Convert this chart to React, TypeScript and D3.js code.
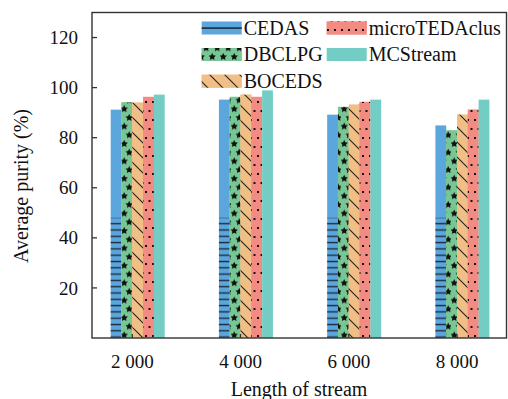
import React from "react";
import * as d3 from "d3";

const categories = ["2 000", "4 000", "6 000", "8 000"];
const seriesNames = ["CEDAS", "DBCLPG", "BOCEDS", "microTEDAclus", "MCStream"];
const cedas = [91.2, 95.2, 89.2, 84.9];
const dbclpg = [94.1, 96.3, 92.3, 82.9];
const boceds = [94.0, 97.2, 93.2, 89.2];
const microTEDAclus = [96.3, 96.3, 94.3, 91.2];
const mcStream = [97.2, 98.9, 95.2, 95.2];
const yTicks = [20, 40, 60, 80, 100, 120];

const seriesValues = [cedas, dbclpg, boceds, microTEDAclus, mcStream];
const colors = ["#5ba6dc", "#76c793", "#f1bf85", "#f38b83", "#73cdc4"];
const fills = ["url(#pCedas)", "url(#pStars)", "url(#pDiag)", "url(#pDots)", colors[4]];

const textStyle = { fontFamily: "Liberation Serif" };

function starPath(cx: number, cy: number, r: number) {
  const pts: [number, number][] = [];
  for (let i = 0; i < 10; i++) {
    const a = -Math.PI / 2 + (i * Math.PI) / 5;
    const rr = i % 2 === 0 ? r : r * 0.5;
    pts.push([cx + rr * Math.cos(a), cy + rr * Math.sin(a)]);
  }
  return "M" + pts.map((p) => p.join(",")).join("L") + "Z";
}

export default function App() {
  const W = 508;
  const H = 399;
  const plot = { left: 92, right: 506.5, top: 12.5, bottom: 338 };

  const y = d3.scaleLinear().domain([0, 130]).range([plot.bottom, plot.top]);
  const x = d3.scalePoint<string>().domain(categories).range([132.3, 457]);
  const bw = 10.8;
  // tick sits between the 2nd and 3rd bar of each group
  const inner = d3.scaleBand<string>().domain(seriesNames).range([-2 * bw, 3 * bw]);

  const lineTop = y(48);

  const bars = categories.map((c, ci) =>
    seriesNames.map((s, si) => {
      const v = seriesValues[si][ci];
      const bx = (x(c) as number) + (inner(s) as number);
      const by = y(v);
      const h = plot.bottom - by;
      return (
        <g key={c + s}>
          <rect x={bx} y={by} width={inner.bandwidth()} height={h} fill={colors[si]} />
          {si === 0 ? (
            <rect
              x={bx}
              y={lineTop}
              width={inner.bandwidth()}
              height={plot.bottom - lineTop}
              fill="url(#pHlines)"
            />
          ) : si < 4 ? (
            <rect x={bx} y={by} width={inner.bandwidth()} height={h} fill={fills[si]} />
          ) : null}
        </g>
      );
    })
  );

  const legendItems = [
    { i: 0, x: 201.7, y: 21.5 },
    { i: 1, x: 201.7, y: 48 },
    { i: 2, x: 201.7, y: 74.7 },
    { i: 3, x: 326.7, y: 21.5 },
    { i: 4, x: 326.7, y: 48 },
  ];

  return (
    <svg width={W} height={H} style={{ position: "absolute", left: 0, top: 0 }}>
      <defs>
        <pattern id="pHlines" patternUnits="userSpaceOnUse" width={10} height={6.3}>
          <rect x={0} y={2.5} width={10} height={1.4} fill="#1d2c3e" />
        </pattern>
        <pattern id="pStars" patternUnits="userSpaceOnUse" width={11} height={17.4}>
          <rect width={11} height={17.4} fill={colors[1]} />
          <path d={starPath(3.2, 4.6, 3.9)} fill="#111" />
          <path d={starPath(8.2, 13.3, 3.9)} fill="#111" />
        </pattern>
        <pattern id="pDiag" patternUnits="userSpaceOnUse" width={15} height={15}>
          <rect width={15} height={15} fill={colors[2]} />
          <path d="M0,0L15,15M-2,13L2,17M13,-2L17,2" stroke="#222" strokeWidth={1.1} />
        </pattern>
        <pattern id="pDots" patternUnits="userSpaceOnUse" width={7} height={18}>
          <rect width={7} height={18} fill={colors[3]} />
          <rect x={1.5} y={2} width={2} height={2} fill="#111" />
          <rect x={5} y={11} width={2} height={2} fill="#111" />
        </pattern>
      </defs>

      {bars}

      {/* frame */}
      <rect
        x={plot.left}
        y={plot.top}
        width={plot.right - plot.left}
        height={plot.bottom - plot.top}
        fill="none"
        stroke="#333"
        strokeWidth={1.4}
      />

      {/* y axis */}
      {yTicks.map((t) => (
        <g key={t}>
          <line x1={plot.left} x2={plot.left + 5} y1={y(t)} y2={y(t)} stroke="#333" strokeWidth={1.3} />
          <text x={78} y={y(t)} dy="0.35em" textAnchor="end" style={textStyle} fontSize={19} fill="#111">
            {t}
          </text>
        </g>
      ))}

      {/* x axis */}
      {categories.map((c) => (
        <g key={c}>
          <line
            x1={x(c) as number}
            x2={x(c) as number}
            y1={plot.bottom}
            y2={plot.bottom - 4}
            stroke="#333"
            strokeWidth={1.3}
          />
          <text x={x(c) as number} y={368} textAnchor="middle" style={textStyle} fontSize={19} fill="#111">
            {c}
          </text>
        </g>
      ))}

      <text x={299} y={396} textAnchor="middle" style={textStyle} fontSize={20} fill="#111">
        Length of stream
      </text>
      <text
        transform="translate(28,186) rotate(-90)"
        textAnchor="middle"
        style={textStyle}
        fontSize={20}
        fill="#111"
      >
        Average purity (%)
      </text>

      {/* legend */}
      {legendItems.map((d) => (
        <g key={d.i}>
          <rect x={d.x} y={d.y} width={40} height={13} fill={colors[d.i]} />
          {d.i === 0 ? (
            <rect x={d.x} y={d.y + 5.8} width={40} height={1.6} fill="#1d2c3e" />
          ) : d.i < 4 ? (
            <rect x={d.x} y={d.y} width={40} height={13} fill={fills[d.i]} />
          ) : null}
          <text x={d.x + 42} y={d.y + 13} style={textStyle} fontSize={20} fill="#111">
            {seriesNames[d.i]}
          </text>
        </g>
      ))}
    </svg>
  );
}
